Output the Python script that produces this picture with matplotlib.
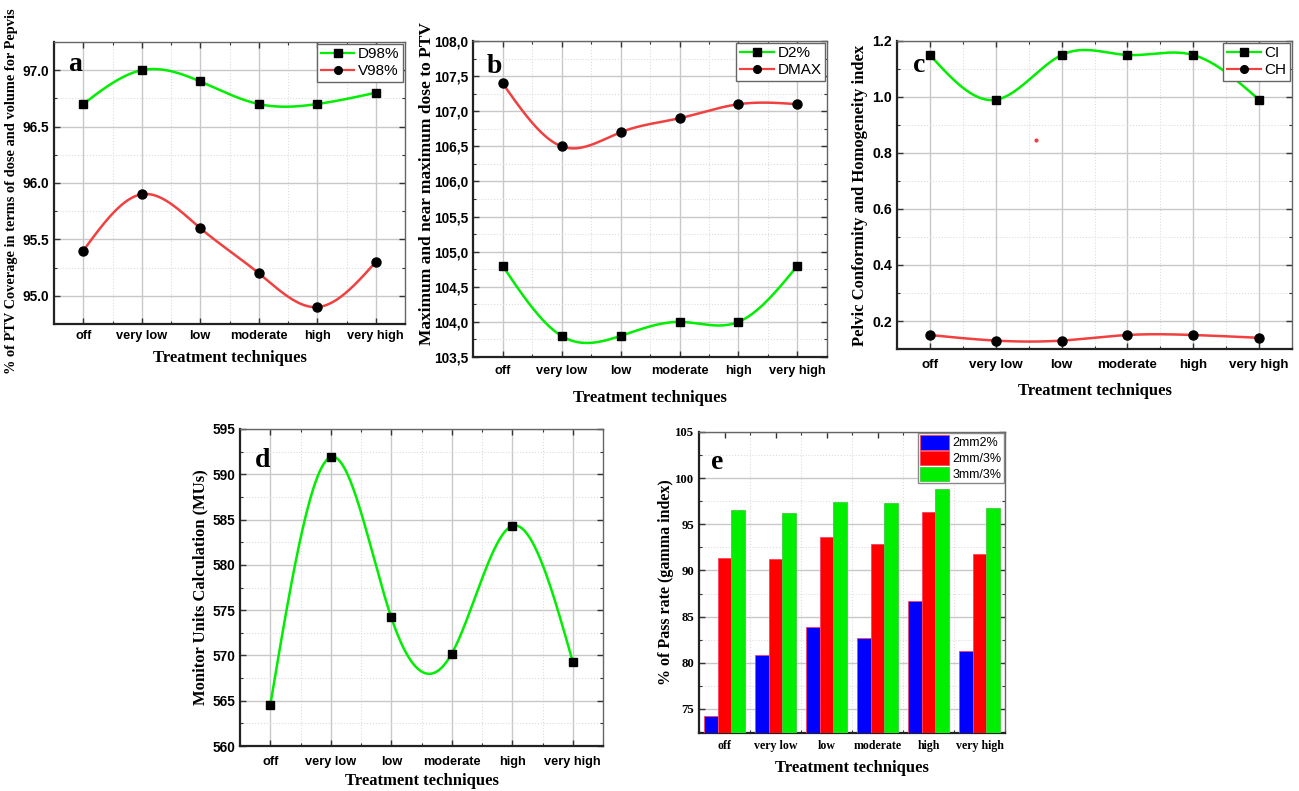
import numpy as np
import matplotlib
matplotlib.use("Agg")
import matplotlib.pyplot as plt
from matplotlib.ticker import MultipleLocator, FuncFormatter

categories = ["off", "very low", "low", "moderate", "high", "very high"]

# panel a
d98 = [96.7, 97.0, 96.9, 96.7, 96.7, 96.8]
v98 = [95.4, 95.9, 95.6, 95.2, 94.9, 95.3]
# panel b
d2 = [104.8, 103.8, 103.8, 104.0, 104.0, 104.8]
dmax = [107.4, 106.5, 106.7, 106.9, 107.1, 107.1]
# panel c
ci = [1.15, 0.99, 1.15, 1.15, 1.15, 0.99]
ch = [0.15, 0.13, 0.13, 0.15, 0.15, 0.14]
# panel d
mus = [564.5, 591.9, 574.2, 570.2, 584.3, 569.3]
# panel e
g2mm2 = [74.2, 80.8, 83.9, 82.7, 86.7, 81.3]
g2mm3 = [91.4, 91.2, 93.6, 92.9, 96.3, 91.8]
g3mm3 = [96.5, 96.2, 97.4, 97.3, 98.8, 96.8]

SANS = "Liberation Sans"
SERIF = "Liberation Serif"
GREEN = "#00ee00"
RED = "#f04040"

W, H = 1299, 791
fig = plt.figure(figsize=(W / 100, H / 100), dpi=100)


def rect(l, t, r, b):
    return [l / W, 1 - b / H, (r - l) / W, (b - t) / H]


def natural_spline(y, n=300):
    y = np.asarray(y, float)
    k = len(y)
    A = np.zeros((k, k))
    rhs = np.zeros(k)
    A[0, 0] = 1
    A[-1, -1] = 1
    for i in range(1, k - 1):
        A[i, i - 1] = 1
        A[i, i] = 4
        A[i, i + 1] = 1
        rhs[i] = 6 * (y[i + 1] - 2 * y[i] + y[i - 1])
    M = np.linalg.solve(A, rhs)
    xs = np.linspace(0, k - 1, n)
    idx = np.clip(np.floor(xs).astype(int), 0, k - 2)
    t = xs - idx
    ys = ((1 - t) * y[idx] + t * y[idx + 1]
          + ((1 - t) ** 3 - (1 - t)) * M[idx] / 6
          + (t ** 3 - t) * M[idx + 1] / 6)
    return xs, ys


def style(ax, ylabel, ymaj, ymin, ylsize=11, tickfont=SANS, ticksize=9.2,
          labelpad=4, xpad=6, tpad=4):
    ax.set_xlim(-0.5, 5.5)
    ax.set_xticks(range(6))
    ax.set_xticks(np.arange(-0.5, 6, 1), minor=True)
    ax.set_xticklabels(categories, fontfamily=tickfont, fontweight="bold", fontsize=ticksize)
    ax.yaxis.set_major_locator(MultipleLocator(ymaj))
    ax.yaxis.set_minor_locator(MultipleLocator(ymin))
    for lab in ax.get_yticklabels():
        lab.set_fontfamily(tickfont)
        lab.set_fontweight("bold")
        lab.set_fontsize(ticksize + 0.6)
    ax.tick_params(which="both", direction="in", top=True, right=True, color="#333333")
    ax.tick_params(which="major", length=4, width=1)
    ax.tick_params(which="minor", length=2.5, width=0.8)
    ax.tick_params(axis="x", which="major", pad=tpad)
    ax.grid(which="major", color="#c8c8c8", lw=1.0)
    ax.grid(which="minor", color="#dcdcdc", lw=0.8, ls=":")
    ax.set_axisbelow(True)
    for s in ["left", "bottom"]:
        ax.spines[s].set_color("#222222")
        ax.spines[s].set_linewidth(1.6)
    for s in ["top", "right"]:
        ax.spines[s].set_color("#666666")
        ax.spines[s].set_linewidth(1.0)
    ax.set_xlabel("Treatment techniques", fontfamily=SERIF, fontweight="bold", fontsize=12, labelpad=xpad)
    ax.set_ylabel(ylabel, fontfamily=SERIF, fontweight="bold", fontsize=ylsize, labelpad=labelpad)


def letter(ax, s, x=0.04, y=0.92):
    ax.text(x, y, s, transform=ax.transAxes, fontfamily=SERIF, fontweight="bold",
            fontsize=20, va="center", ha="left")


def lines(ax, s1, s2, l1, l2):
    xs, ys = natural_spline(s1)
    ax.plot(xs, ys, color=GREEN, lw=1.8, zorder=3)
    ax.plot(range(6), s1, ls="none", marker="s", ms=6, color="black", zorder=4)
    xs, ys = natural_spline(s2)
    ax.plot(xs, ys, color=RED, lw=1.8, zorder=3)
    ax.plot(range(6), s2, ls="none", marker="o", ms=6.5, color="black", zorder=4)
    h1, = ax.plot([], [], color=GREEN, lw=1.6, marker="s", ms=5.5, mfc="black", mec="black")
    h2, = ax.plot([], [], color=RED, lw=1.6, marker="o", ms=5.5, mfc="black", mec="black")
    leg = ax.legend([h1, h2], [l1, l2], loc="upper right", fancybox=False, framealpha=1,
                    edgecolor="#666666", borderaxespad=0.1, handlelength=2.2,
                    prop={"family": SANS, "size": 11}, borderpad=0.25, labelspacing=0.2,
                    handletextpad=0.25)
    leg.get_frame().set_linewidth(1.0)


# panel a
ax = fig.add_axes(rect(54, 42, 405, 324))
lines(ax, d98, v98, "D98%", "V98%")
ax.set_ylim(94.75, 97.25)
style(ax, "% of PTV Coverage in terms of dose and volume for Pepvis", 0.5, 0.25, ylsize=10.4, labelpad=3)
ax.yaxis.set_major_formatter(FuncFormatter(lambda v, p: f"{v:.1f}"))
ax.yaxis.label.set_y(0.47)
letter(ax, "a")

# panel b
ax = fig.add_axes(rect(473, 41, 827, 357))
lines(ax, d2, dmax, "D2%", "DMAX")
ax.set_ylim(103.5, 108.0)
style(ax, "Maximum and near maximum dose to PTV", 0.5, 0.25, ylsize=12.5, labelpad=-1, xpad=9, tpad=6)
ax.yaxis.set_major_formatter(FuncFormatter(lambda v, p: f"{v:.1f}".replace(".", ",")))
ax.yaxis.label.set_y(0.55)
letter(ax, "b")

# panel c
ax = fig.add_axes(rect(897, 41, 1292, 349))
lines(ax, ci, ch, "CI", "CH")
ax.plot([1.61], [0.846], ls="none", marker="o", ms=2, color=RED)
ax.set_ylim(0.1, 1.2)
style(ax, "Pelvic Conformity and Homogeneity index", 0.2, 0.1, ylsize=12, ticksize=9.6,
      labelpad=3, xpad=9, tpad=7)
ax.yaxis.set_major_formatter(FuncFormatter(lambda v, p: f"{v:.1f}"))
letter(ax, "c")

# panel d
ax = fig.add_axes(rect(240, 429, 603, 746))
xs, ys = natural_spline(mus)
ax.plot(xs, ys, color=GREEN, lw=1.8, zorder=3)
ax.plot(range(6), mus, ls="none", marker="s", ms=6, color="black", zorder=4)
ax.set_ylim(560, 595)
style(ax, "Monitor Units Calculation (MUs)", 5, 2.5, ylsize=12, labelpad=3, xpad=4, tpad=7)
letter(ax, "d", y=0.9)

# panel e
ax = fig.add_axes(rect(699, 432, 1005, 733))
xpos = np.arange(6)
bw = 0.27
ax.bar(xpos - bw, g2mm2, bw, color="#0000ff", edgecolor="#ff4060", lw=0.6, label="2mm2%", zorder=3)
ax.bar(xpos, g2mm3, bw, color="#ff0000", edgecolor="#ff4060", lw=0.6, label="2mm/3%", zorder=3)
ax.bar(xpos + bw, g3mm3, bw, color="#00ee00", edgecolor="#40cc40", lw=0.6, label="3mm/3%", zorder=3)
ax.set_ylim(72.4, 105)
style(ax, "% of Pass rate (gamma index)", 5, 2.5, ylsize=11.5, tickfont=SERIF, ticksize=8.6,
      labelpad=1, tpad=5)
ax.grid(which="major", axis="x", visible=False)
leg = ax.legend(loc="upper right", fancybox=False, framealpha=1, edgecolor="#888888",
                borderaxespad=0.05, handlelength=2.3, handleheight=1.4,
                prop={"family": SANS, "size": 9}, borderpad=0.2, labelspacing=0.1,
                handletextpad=0.3)
letter(ax, "e", y=0.9)

fig.savefig("out.png", dpi=100)
